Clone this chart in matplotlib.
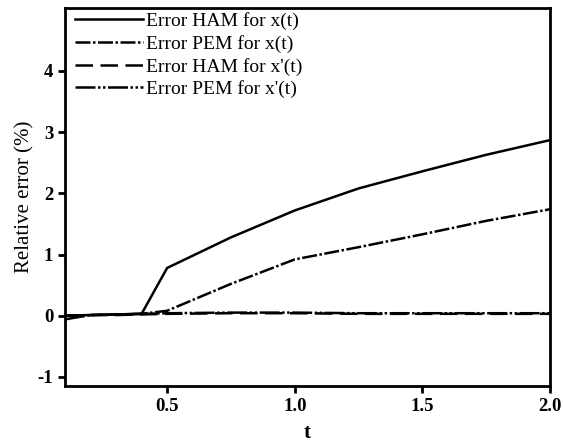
import matplotlib
matplotlib.use('Agg')
import matplotlib.pyplot as plt

plt.rcParams['font.family'] = ['Liberation Serif', 'DejaVu Serif']
plt.rcParams['axes.unicode_minus'] = False

# data
t = [0.1, 0.2, 0.3, 0.4, 0.5, 0.75, 1.0, 1.25, 1.5, 1.75, 2.0]
ham_x = [0.0, 0.01, 0.02, 0.03, 0.78, 1.28, 1.72, 2.08, 2.36, 2.63, 2.87]
pem_x = [0.0, 0.01, 0.02, 0.03, 0.08, 0.52, 0.92, 1.12, 1.33, 1.55, 1.74]
ham_dx = [0.0, 0.01, 0.01, 0.02, 0.03, 0.04, 0.04, 0.03, 0.03, 0.03, 0.03]
pem_dx = [-0.06, 0.01, 0.02, 0.03, 0.04, 0.05, 0.05, 0.04, 0.04, 0.04, 0.04]

labels = ['Error HAM for x(t)', 'Error PEM for x(t)',
          "Error HAM for x'(t)", "Error PEM for x'(t)"]

fig = plt.figure(figsize=(5.63, 4.44), dpi=100)
ax = fig.add_axes([0.1155, 0.1306, 0.8615, 0.8514])

ax.plot(t, ham_x, color='black', lw=1.8, linestyle='-', label=labels[0])
ax.plot(t, pem_x, color='black', lw=1.8, linestyle=(0, (6, 1, 1, 1)), label=labels[1])
ax.plot(t, ham_dx, color='black', lw=1.8, linestyle=(0, (7, 3)), label=labels[2])
ax.plot(t, pem_dx, color='black', lw=1.8, linestyle=(0, (8, 1, 1, 1, 1, 1)), label=labels[3])

ax.set_xlim(0.1, 2.0)
ax.set_ylim(-1.15, 5.03)
ax.set_xticks([0.5, 1.0, 1.5, 2.0])
ax.set_xticklabels(['0.5', '1.0', '1.5', '2.0'])
ax.set_yticks([-1, 0, 1, 2, 3, 4])

for s in ax.spines.values():
    s.set_linewidth(2)
ax.tick_params(direction='out', length=5, width=2, labelsize=13.5)
for lab in ax.get_xticklabels() + ax.get_yticklabels():
    lab.set_fontweight('bold')

ax.set_xlabel('t', fontsize=15, fontweight='bold', labelpad=6)
ax.set_ylabel('Relative error (%)', fontsize=15, labelpad=2)

leg = ax.legend(loc='upper left', bbox_to_anchor=(0, 1.014), frameon=False,
                fontsize=14, handlelength=3.5, handletextpad=0.15,
                labelspacing=0.24, borderaxespad=0.3, borderpad=0.2)

fig.savefig('out.png', dpi=100)
